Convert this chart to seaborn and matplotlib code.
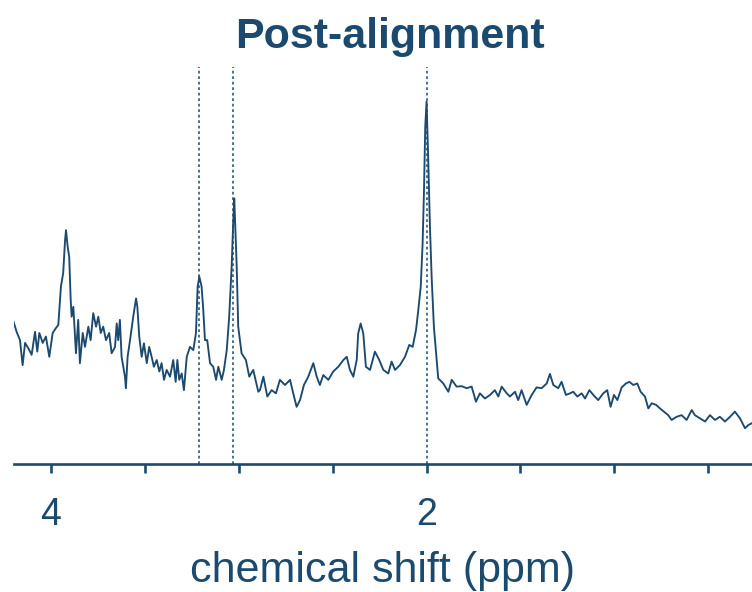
import matplotlib
matplotlib.use("Agg")
import matplotlib.pyplot as plt
import seaborn as sns
import pandas as pd

# chemical shift (ppm) and intensity (a.u.)
ppm = [4.201, 4.183, 4.165, 4.151, 4.138, 4.121, 4.103, 4.085, 4.073, 4.062,
       4.044, 4.027, 4.009, 3.991, 3.973, 3.961, 3.947, 3.935, 3.925, 3.920,
       3.911, 3.903, 3.895, 3.890, 3.881, 3.867, 3.855, 3.846, 3.831, 3.819,
       3.801, 3.789, 3.775, 3.760, 3.748, 3.735, 3.722, 3.707, 3.690, 3.677,
       3.659, 3.650, 3.642, 3.633, 3.624, 3.606, 3.601, 3.592, 3.579, 3.562,
       3.547, 3.540, 3.530, 3.517, 3.505, 3.490, 3.477, 3.464, 3.452, 3.437,
       3.423, 3.411, 3.398, 3.384, 3.366, 3.349, 3.336, 3.327, 3.317, 3.304,
       3.292, 3.277, 3.260, 3.242, 3.228, 3.219, 3.210, 3.198, 3.189, 3.180,
       3.168, 3.153, 3.136, 3.121, 3.109, 3.091, 3.079, 3.064, 3.051, 3.038,
       3.029, 3.024, 3.011, 3.003, 2.985, 2.962, 2.944, 2.923, 2.896, 2.887,
       2.869, 2.848, 2.825, 2.802, 2.781, 2.754, 2.727, 2.710, 2.692, 2.674,
       2.653, 2.630, 2.603, 2.585, 2.568, 2.550, 2.523, 2.497, 2.470, 2.443,
       2.425, 2.408, 2.390, 2.372, 2.364, 2.351, 2.337, 2.323, 2.301, 2.275,
       2.252, 2.230, 2.204, 2.186, 2.168, 2.142, 2.115, 2.092, 2.074, 2.056,
       2.044, 2.031, 2.021, 2.014, 2.007, 2.000, 1.991, 1.982, 1.973, 1.961,
       1.946, 1.938, 1.911, 1.884, 1.866, 1.840, 1.813, 1.786, 1.760, 1.737,
       1.716, 1.689, 1.662, 1.636, 1.618, 1.600, 1.573, 1.556, 1.529, 1.512,
       1.494, 1.467, 1.440, 1.414, 1.387, 1.360, 1.343, 1.325, 1.299, 1.281,
       1.258, 1.236, 1.219, 1.197, 1.174, 1.156, 1.133, 1.112, 1.086, 1.059,
       1.038, 1.020, 1.002, 0.984, 0.961, 0.938, 0.920, 0.899, 0.878, 0.860,
       0.837, 0.819, 0.801, 0.778, 0.757, 0.736, 0.713, 0.695, 0.668, 0.642,
       0.615, 0.588, 0.571, 0.544, 0.517, 0.491, 0.464, 0.438, 0.411, 0.384,
       0.358, 0.331, 0.304, 0.287, 0.267]

intensity = [36.1, 33.3, 31.2, 24.9, 30.5, 29.2, 27.5, 33.3, 28.3, 33.0,
             30.5, 32.1, 27.0, 33.0, 34.3, 35.0, 44.7, 48.1, 56.4, 58.9,
             54.7, 52.2, 41.3, 37.1, 39.6, 27.9, 36.3, 25.4, 33.0, 29.5,
             34.6, 31.2, 38.0, 34.6, 37.1, 33.0, 34.6, 31.2, 33.0, 27.9,
             29.5, 35.4, 31.2, 36.3, 27.0, 22.0, 19.1, 27.0, 31.2, 37.1,
             41.7, 39.6, 32.1, 27.0, 30.4, 25.4, 29.5, 27.0, 24.5, 26.2,
             23.3, 25.4, 21.2, 23.7, 22.0, 26.2, 20.7, 26.2, 21.2, 22.8,
             18.6, 27.0, 29.5, 28.7, 33.0, 44.7, 47.2, 44.7, 38.8, 31.2,
             31.2, 25.4, 24.5, 21.2, 24.5, 21.2, 23.7, 28.7, 37.1, 49.7,
             61.5, 66.9, 49.7, 34.6, 27.9, 26.2, 22.0, 23.7, 18.2, 18.6,
             22.0, 17.0, 18.6, 17.8, 21.2, 19.9, 21.2, 17.8, 14.4, 16.1,
             19.9, 22.0, 25.4, 22.0, 19.9, 22.4, 21.2, 23.3, 24.5, 26.2,
             27.0, 23.7, 22.0, 26.2, 32.9, 35.4, 32.9, 24.5, 23.7, 28.3,
             26.2, 23.7, 22.8, 25.8, 23.7, 24.9, 27.0, 30.0, 29.5, 33.8,
             38.8, 44.7, 55.6, 68.2, 85.0, 91.3, 76.6, 59.8, 47.2, 34.6,
             26.2, 21.6, 20.3, 18.2, 21.2, 19.5, 19.6, 19.1, 19.5, 15.7,
             17.8, 16.5, 17.4, 18.6, 17.0, 19.5, 17.8, 17.0, 18.2, 16.1,
             18.6, 14.9, 17.4, 19.3, 19.1, 20.3, 22.7, 19.9, 19.1, 20.7,
             17.4, 17.8, 18.2, 17.0, 17.8, 16.5, 18.6, 17.4, 16.1, 17.8,
             18.6, 14.4, 17.4, 16.1, 19.3, 20.3, 20.7, 19.9, 20.3, 18.2,
             17.0, 14.0, 15.3, 14.9, 14.0, 13.2, 12.3, 11.1, 11.9, 12.3,
             11.1, 13.6, 12.3, 11.5, 10.7, 12.3, 11.1, 11.9, 10.7, 11.9,
             13.2, 11.5, 9.0, 9.8, 10.3]

# reference peak positions (ppm): choline, creatine, NAA
ref_peaks = [3.21, 3.03, 2.00]

# tick positions and labels
tick_pos = [4.0, 3.5, 3.0, 2.5, 2.0, 1.5, 1.0, 0.5]
tick_lbl = ["4", "", "", "", "2", "", "", ""]

title = "Post-alignment"
xlabel = "chemical shift (ppm)"

NAVY = "#1b4a6e"

sns.set_style("white")
plt.rcParams["font.family"] = ["Liberation Sans", "DejaVu Sans"]

df = pd.DataFrame({"ppm": ppm, "intensity": intensity})

fig = plt.figure(figsize=(7.52, 5.92), dpi=100)
ax = fig.add_axes([0.0186, 0.2162, 0.9814, 0.6706])

sns.lineplot(data=df, x="ppm", y="intensity", sort=False, ax=ax,
             color=NAVY, linewidth=1.35, estimator=None)

for p in ref_peaks:
    ax.axvline(p, color=NAVY, linewidth=1.1, linestyle=(0, (1.8, 1.8)), zorder=1)

ax.set_xlim(4.197, 0.267)
ax.set_ylim(0, 100)

for s in ["top", "left", "right"]:
    ax.spines[s].set_visible(False)
ax.spines["bottom"].set_color(NAVY)
ax.spines["bottom"].set_linewidth(1.9)

ax.set_xticks(tick_pos)
ax.set_xticklabels(tick_lbl)
ax.set_yticks([])
ax.tick_params(axis="x", direction="out", length=6.5, width=1.9, color=NAVY,
               labelcolor=NAVY, labelsize=27, pad=17, bottom=True)

ax.set_xlabel(xlabel, fontsize=31, color=NAVY, labelpad=13)
ax.set_ylabel("")
ax.set_title(title, fontsize=31, fontweight="bold", color=NAVY, pad=14, x=0.51)

fig.savefig("out.png", dpi=100)
